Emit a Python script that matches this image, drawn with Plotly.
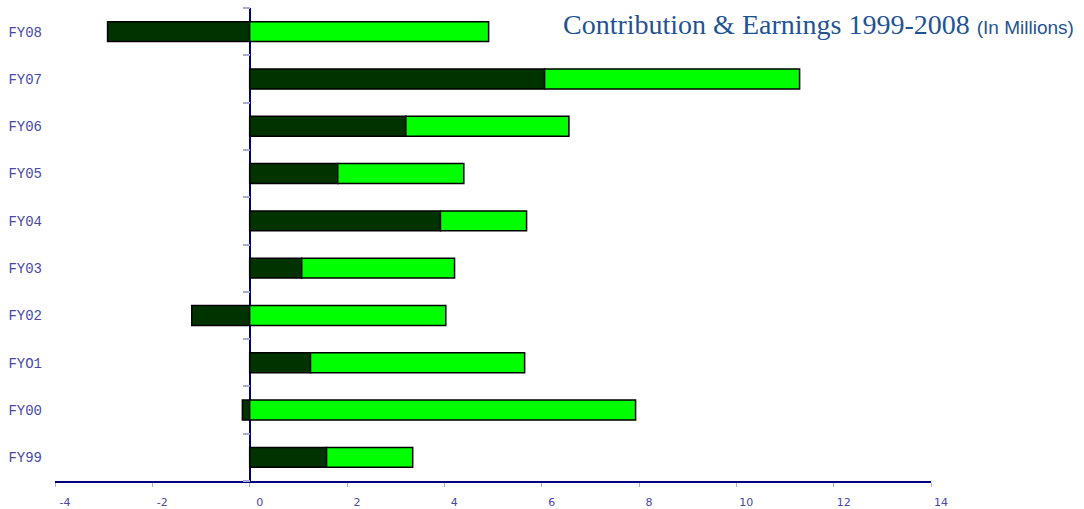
import plotly.graph_objects as go

years = ["FY99", "FY00", "FYO1", "FY02", "FY03", "FY04", "FY05", "FY06", "FY07", "FY08"]
earnings = [1.58, -0.15, 1.25, -1.19, 1.07, 3.92, 1.81, 3.21, 6.06, -2.92]
contributions = [1.77, 7.93, 4.40, 4.03, 3.14, 1.77, 2.59, 3.35, 5.24, 4.91]
x_ticks = [-4, -2, 0, 2, 4, 6, 8, 10, 12, 14]

label_color = "#4848a8"
axis_color = "#000080"
tick_color = "#a8acd4"
mono = "Liberation Mono, Courier New, monospace"

fig = go.Figure()
fig.add_trace(go.Bar(
    y=years, x=earnings, orientation="h", name="Earnings",
    marker=dict(color="#003300", line=dict(color="black", width=1.5)),
    showlegend=False,
))
fig.add_trace(go.Bar(
    y=years, x=contributions, orientation="h", name="Contribution",
    marker=dict(color="#00ff00", line=dict(color="black", width=1.5)),
    showlegend=False,
))
# invisible helper trace carrying the boundary ticks at x = 0
fig.add_trace(go.Scatter(
    y=years, x=[None] * len(years), yaxis="y2", mode="markers",
    marker=dict(opacity=0), showlegend=False, hoverinfo="skip",
))

fig.update_layout(
    width=1084, height=509,
    margin=dict(l=55, r=153, t=8, b=28),
    plot_bgcolor="white", paper_bgcolor="white",
    barmode="relative", bargap=0.58,
    xaxis=dict(
        range=[-4, 14], tickvals=x_ticks, ticktext=[str(v) for v in x_ticks],
        showgrid=False, showline=True, linecolor=axis_color, linewidth=1.5,
        ticks="outside", ticklen=4, tickcolor=tick_color, tickwidth=1,
        zeroline=True, zerolinecolor=axis_color, zerolinewidth=1.5,
        tickfont=dict(family="DejaVu Sans, Verdana, sans-serif", size=11, color=label_color),
        ticklabelshift=10, ticklabelstandoff=6, automargin=False,
    ),
    yaxis=dict(
        categoryorder="array", categoryarray=years,
        range=[-0.5, len(years) - 0.5],
        showgrid=False, showline=False, zeroline=False, ticks="",
        tickfont=dict(family=mono, size=14, color=label_color),
        ticklabelstandoff=12, automargin=False,
    ),
    yaxis2=dict(
        overlaying="y", matches="y", anchor="free", position=4 / 18, side="left",
        categoryorder="array", categoryarray=years,
        showgrid=False, showline=False, zeroline=False,
        ticks="outside", ticklen=7, tickcolor=tick_color, tickwidth=1.5,
        tickson="boundaries", showticklabels=False, automargin=False,
    ),
    annotations=[dict(
        xref="paper", yref="paper", x=1.1644, y=1.0, xanchor="right", yanchor="top",
        showarrow=False, borderpad=0,
        text=("Contribution &amp; Earnings 1999-2008 "
              "<span style=\"font-family:'Liberation Sans Narrow', 'Liberation Sans', Arial;"
              "font-size:19px\">(In Millions)</span>"),
        font=dict(family="Liberation Serif, Times New Roman, serif", size=28, color="#1f5494"),
    )],
)

fig.write_html(
    "out.html",
    config={"displayModeBar": False},
    post_script="document.body.style.margin='0';",
)
